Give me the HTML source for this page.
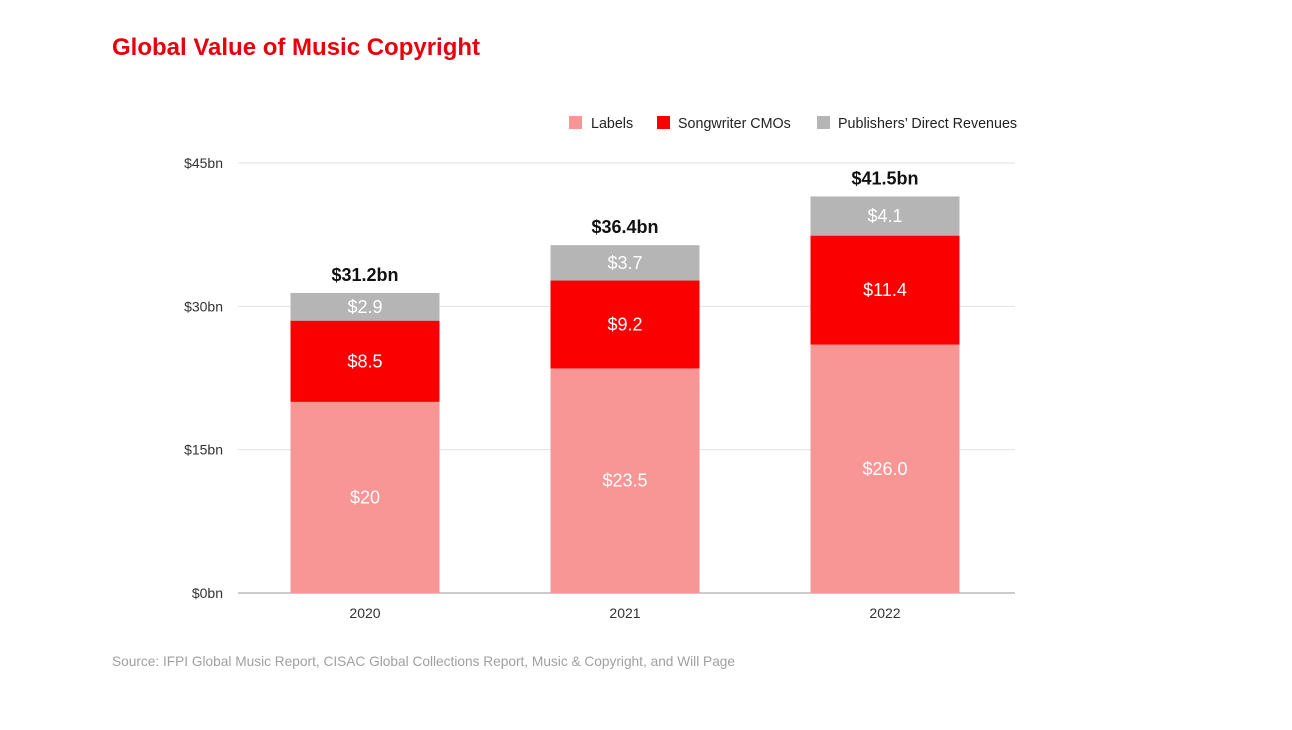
<!DOCTYPE html>
<html><head><meta charset="utf-8"><style>
body{margin:0;background:#fff;width:1292px;height:725px;overflow:hidden;font-family:"Liberation Sans",sans-serif}
</style></head><body>
<svg width="1292" height="725" id="svg" font-family="Liberation Sans, sans-serif">
<text x="112" y="55" font-size="24" font-weight="bold" fill="#e8000b">Global Value of Music Copyright</text>
<g>
<rect x="569" y="116" width="13" height="13" fill="#f89595"/>
<text x="591" y="128" font-size="14.3" fill="#222">Labels</text>
<rect x="657" y="116" width="13" height="13" fill="#fa0000"/>
<text x="678" y="128" font-size="14.3" fill="#222">Songwriter CMOs</text>
<rect x="817" y="116" width="13" height="13" fill="#b5b5b5"/>
<text x="838" y="128" font-size="14.3" fill="#222">Publishers’ Direct Revenues</text>
</g>
<g id="grid"></g><g id="bars"></g>
<text x="112" y="666" font-size="13.7" fill="#a0a0a0">Source: IFPI Global Music Report, CISAC Global Collections Report, Music &amp; Copyright, and Will Page</text>
</svg>
<script>
const categories=["2020","2021","2022"];
const labels=[20,23.5,26.0];
const cmos=[8.5,9.2,11.4];
const publishers=[2.9,3.7,4.1];
const labelText=["$20","$23.5","$26.0"];
const cmoText=["$8.5","$9.2","$11.4"];
const pubText=["$2.9","$3.7","$4.1"];
const totalText=["$31.2bn","$36.4bn","$41.5bn"];
const ticks=[0,15,30,45];
const NS="http://www.w3.org/2000/svg";
const y=v=>593-v*430/45;
const x=i=>365+i*260;
const BW=149;
function mk(tag,attrs,parent,txt){const e=document.createElementNS(NS,tag);for(const k in attrs)e.setAttribute(k,attrs[k]);if(txt!==undefined)e.textContent=txt;parent.appendChild(e);return e;}
const g=document.getElementById('grid'),b=document.getElementById('bars');
ticks.forEach(t=>{
 const l=mk('line',{x1:238,x2:1015,y1:y(t),y2:y(t),stroke:t===0?'#999':'#e2e2e2','stroke-width':1},g);
 
 
 const tx=mk('text',{x:223,y:y(t)+5,'font-size':14,fill:'#333','text-anchor':'end'},g,'$'+t+'bn');
 
 
});
categories.forEach((c,i)=>{
 const cx=x(i);let base=0;
 const segs=[[labels[i],'#f89595',labelText[i],'bar-labels-'+c],[cmos[i],'#fa0000',cmoText[i],'bar-cmos-'+c],[publishers[i],'#b5b5b5',pubText[i],'bar-publishers-'+c]];
 segs.forEach(s=>{
  const r=mk('rect',{x:cx-BW/2,y:y(base+s[0]),width:BW,height:y(base)-y(base+s[0]),fill:s[1]},b);
  
  
  const t=mk('text',{x:cx,y:(y(base)+y(base+s[0]))/2+6,'font-size':18,fill:'#fff','text-anchor':'middle'},b,s[2]);
  
  
  base+=s[0];
 });
 const tt=mk('text',{x:cx,y:y(base)-12,'font-size':18,'font-weight':'bold',fill:'#111','text-anchor':'middle'},b,totalText[i]);
 
 
 const xl=mk('text',{x:cx,y:618,'font-size':14,fill:'#333','text-anchor':'middle'},b,c);
 
 
});
</script>
</body></html>
